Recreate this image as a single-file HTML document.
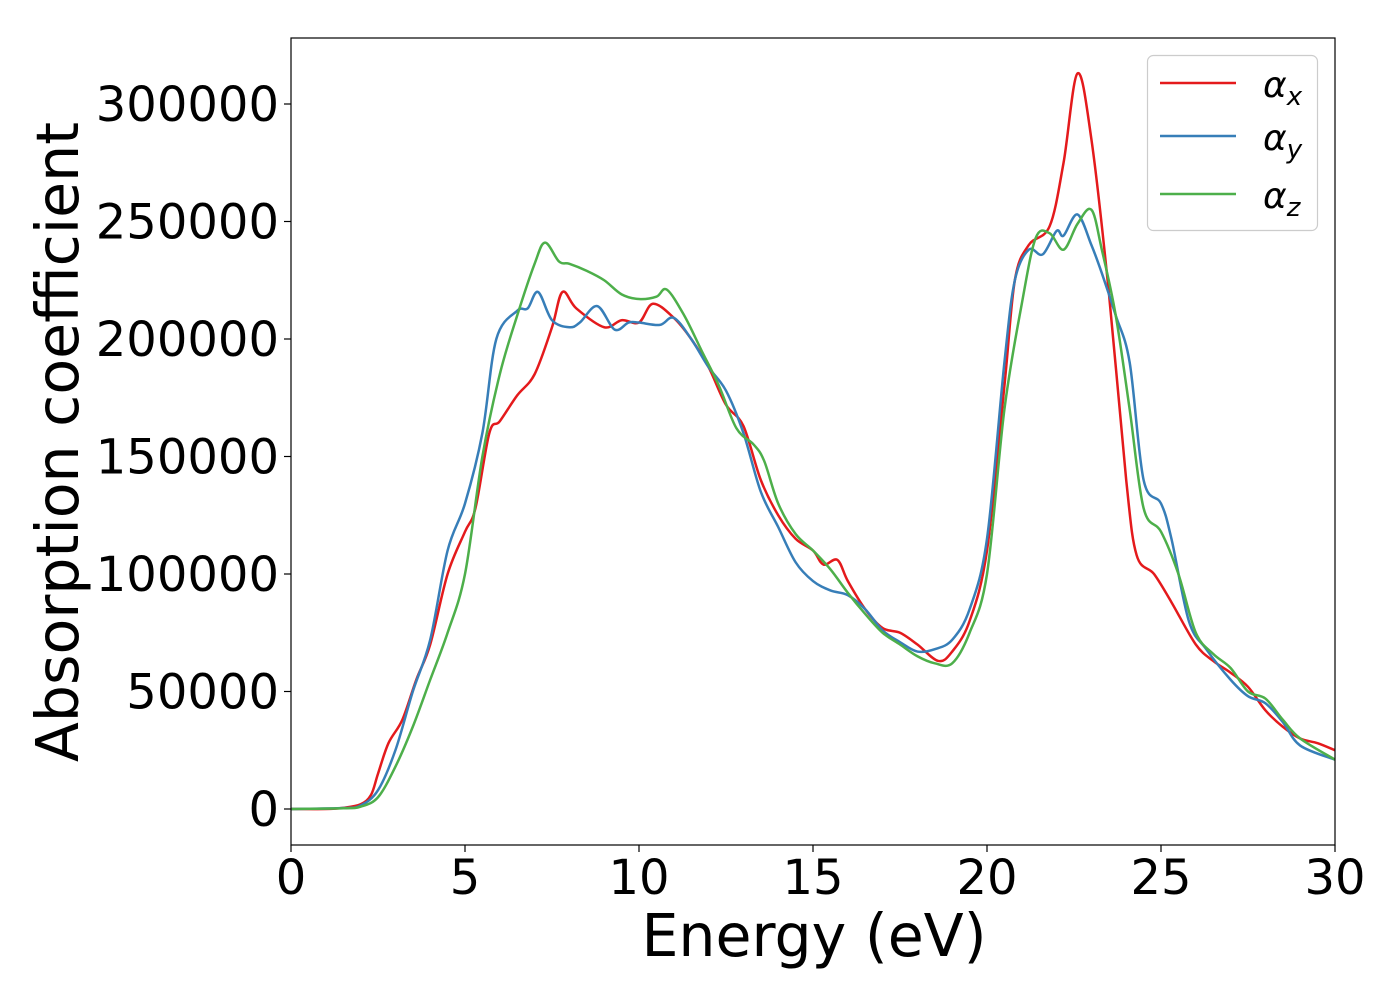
<!DOCTYPE html>
<html><head><meta charset="utf-8"><style>
body{margin:0;background:#fff;}
svg text{font-family:"DejaVu Sans","Liberation Sans",sans-serif;fill:#000;}
</style></head><body>
<svg id="chart" width="1400" height="1000" xmlns="http://www.w3.org/2000/svg">
<g id="axes"></g>
<g id="series"></g>
<rect x="291" y="38" width="1044" height="807" fill="none" stroke="#000" stroke-width="1.2"/>
<text x="814" y="956" font-size="58.5" text-anchor="middle">Energy (eV)</text>
<text transform="translate(78,442) rotate(-90)" font-size="58.5" text-anchor="middle">Absorption coefficient</text>
<g>
<rect x="1147.5" y="55.5" width="170" height="175" rx="6" fill="#fff" stroke="#ccc" stroke-width="1.2"/>
<line x1="1160" y1="83" x2="1236" y2="83" stroke="#e41a1c" stroke-width="2.5"/>
<line x1="1160" y1="136" x2="1236" y2="136" stroke="#377eb8" stroke-width="2.5"/>
<line x1="1160" y1="194" x2="1236" y2="194" stroke="#4daf4a" stroke-width="2.5"/>
<text x="1263" y="97" font-size="36" font-style="italic">α<tspan font-size="26" dy="8">x</tspan></text>
<text x="1263" y="150" font-size="36" font-style="italic">α<tspan font-size="26" dy="8">y</tspan></text>
<text x="1263" y="208" font-size="36" font-style="italic">α<tspan font-size="26" dy="8">z</tspan></text>
</g>
</svg>
<script>
const xTicks=[0,5,10,15,20,25,30];
const yTicks=[0,50000,100000,150000,200000,250000,300000];
const xE=[0,1,1.5,2,2.3,2.5,2.8,3.2,3.6,4,4.5,5,5.3,5.7,6,6.5,7,7.5,7.8,8.2,9,9.5,10,10.4,11,11.5,12,12.5,13,13.5,14,14.5,15,15.3,15.7,16,16.5,17,17.5,18,18.6,19,19.5,20,20.5,20.8,21.2,21.8,22.2,22.6,23,23.5,24,24.3,24.8,25.3,26,26.5,27,27.5,28,28.5,29,29.5,30];
const xV=[0,0,500,2000,6000,15000,28000,38000,55000,70000,100000,118000,128000,160000,165000,176000,185000,205000,220000,213000,205000,208000,207000,215000,209000,200000,188000,172000,163000,140000,125000,115000,110000,104000,106000,97000,85000,77000,75000,70000,63000,67000,80000,110000,180000,225000,240000,248000,275000,313000,285000,220000,140000,108000,100000,88000,70000,63000,58000,52000,42000,35000,30000,28000,25000];
const yE=[0,1.5,2,2.5,3,3.5,4,4.5,5,5.5,5.9,6.5,6.8,7.1,7.5,8,8.3,8.8,9.3,9.7,10,10.6,11,11.5,12,12.5,13,13.5,14,14.5,15,15.5,16,16.5,17,17.5,18,18.5,19,19.5,20,20.5,20.8,21.2,21.6,22,22.2,22.6,23,23.3,23.7,24.1,24.5,25,25.3,25.8,26.3,27,27.5,28,28.5,29,30];
const yV=[0,400,1500,8000,25000,50000,72000,110000,130000,160000,200000,212000,213000,220000,208000,205000,207000,214000,204000,207000,207000,206000,209000,200000,188000,178000,160000,135000,120000,105000,97000,93000,91000,85000,76000,71000,67000,68000,72000,85000,115000,190000,225000,238000,236000,246000,244000,253000,240000,228000,210000,190000,140000,130000,115000,80000,68000,55000,48000,45000,37000,27000,21000];
const zE=[0,1.5,2,2.5,3,3.5,4,4.5,5,5.5,6,6.5,7,7.3,7.7,8,8.5,9,9.5,10,10.5,10.8,11.3,11.8,12.3,12.8,13.3,13.6,14,14.5,15,15.5,16,16.5,17,17.5,18,18.5,19,19.5,20,20.5,21,21.4,21.8,22.2,22.6,23,23.3,23.7,24.1,24.5,25,25.5,26,26.5,27,27.5,28,28.5,29,30];
const zV=[0,300,1000,5000,18000,35000,55000,75000,100000,150000,185000,210000,232000,241000,233000,232000,229000,225000,219000,217000,218000,221000,210000,195000,180000,162000,155000,148000,130000,117000,110000,102000,92000,83000,75000,70000,65000,62000,62000,75000,100000,170000,215000,243000,245000,238000,249000,255000,238000,210000,170000,128000,118000,100000,75000,66000,60000,50000,47000,38000,30000,21000];
const X=v=>291+v*(1044/30);
const Y=v=>809-v*(705/300000);
const NS="http://www.w3.org/2000/svg";
const ax=document.getElementById('axes');
function mk(t,a,p){const e=document.createElementNS(NS,t);for(const k in a)e.setAttribute(k,a[k]);p.appendChild(e);return e;}
xTicks.forEach(t=>{
 const l=mk('line',{x1:X(t),x2:X(t),y1:845,y2:852,stroke:'#000','stroke-width':1.2},ax);
 
 
 const s=mk('text',{x:X(t),y:894,'font-size':48,'text-anchor':'middle'},ax);s.textContent=t;
 
 
});
yTicks.forEach(t=>{
 const l=mk('line',{x1:284,x2:291,y1:Y(t),y2:Y(t),stroke:'#000','stroke-width':1.2},ax);
 
 
 const s=mk('text',{x:279,y:Y(t)+17,'font-size':48,'text-anchor':'end'},ax);s.textContent=t;
 
 
});
function path(xs,vs){
 const p=xs.map((x,i)=>[X(x),Y(vs[i])]);
 let d='M'+p[0][0]+','+p[0][1];
 for(let i=0;i<p.length-1;i++){
  const p0=p[Math.max(0,i-1)],p1=p[i],p2=p[i+1],p3=p[Math.min(p.length-1,i+2)];
  const c1=[p1[0]+(p2[0]-p0[0])/6,p1[1]+(p2[1]-p0[1])/6];
  const c2=[p2[0]-(p3[0]-p1[0])/6,p2[1]-(p3[1]-p1[1])/6];
  d+=' C'+c1+' '+c2+' '+p2;
 }
 return d;
}
const sg=document.getElementById('series');
const cp=mk('clipPath',{id:'cp'},sg);mk('rect',{x:291,y:38,width:1044,height:807},cp);
[[xE,xV,'#e41a1c','series-alpha-x'],[yE,yV,'#377eb8','series-alpha-y'],[zE,zV,'#4daf4a','series-alpha-z']].forEach(s=>{
 const e=mk('path',{d:path(s[0],s[1]),fill:'none',stroke:s[2],'stroke-width':2.5,'clip-path':'url(#cp)'},sg);
 
 
});
</script>
</body></html>
